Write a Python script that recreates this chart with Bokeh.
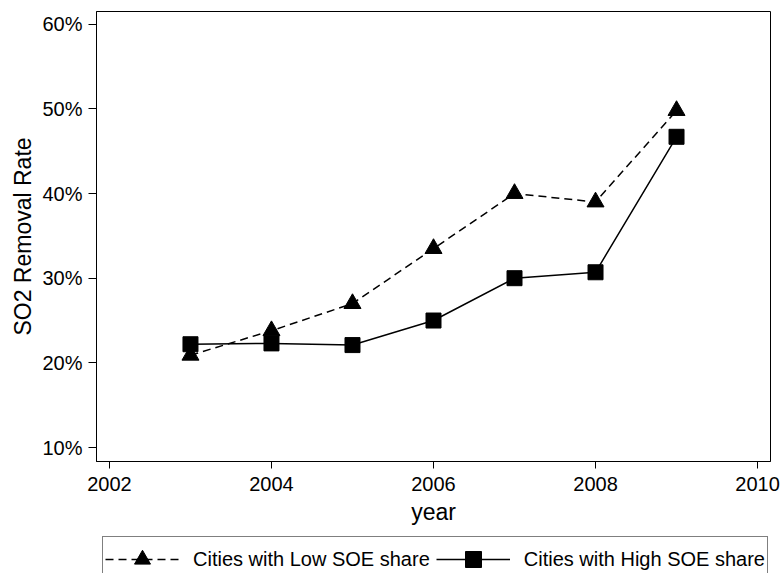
from bokeh.plotting import figure
from bokeh.layouts import column
from bokeh.models import FixedTicker, PrintfTickFormatter, Legend, LegendItem, Range1d
from bokeh.embed import file_html
from bokeh.resources import INLINE

years = [2003, 2004, 2005, 2006, 2007, 2008, 2009]
low_soe = [20.9, 23.8, 27.0, 33.5, 40.0, 39.0, 49.8]
high_soe = [22.2, 22.3, 22.1, 25.0, 30.0, 30.7, 46.7]
x_ticks = [2002, 2004, 2006, 2008, 2010]
y_ticks = [10, 20, 30, 40, 50, 60]
label_low = "Cities with Low SOE share"
label_high = "Cities with High SOE share"

FONT = "Liberation Sans"

p = figure(width=780, height=535, output_backend="svg", toolbar_location=None,
           x_range=Range1d(2001.84, 2010.16), y_range=Range1d(8.35, 61.5),
           min_border_left=96, min_border_right=10, min_border_top=11, min_border_bottom=74)
p.background_fill_color = "white"
p.border_fill_color = "white"
p.outline_line_color = "black"
p.outline_line_width = 1
p.xgrid.visible = False
p.ygrid.visible = False

for ax in (p.xaxis[0], p.yaxis[0]):
    ax.axis_line_color = "black"
    ax.major_tick_line_color = "black"
    ax.minor_tick_line_color = None
    ax.major_tick_in = 0
    ax.major_label_text_font = FONT
    ax.major_label_text_font_size = "20px"
    ax.major_label_text_color = "black"
    ax.axis_label_text_font = FONT
    ax.axis_label_text_font_size = "23px"
    ax.axis_label_text_font_style = "normal"
    ax.axis_label_text_color = "black"

p.xaxis.ticker = FixedTicker(ticks=x_ticks)
p.yaxis.ticker = FixedTicker(ticks=y_ticks)
p.yaxis.formatter = PrintfTickFormatter(format="%d%%")
p.xaxis.axis_label = "year"
p.yaxis.axis_label = "SO2 Removal Rate"
p.xaxis.major_tick_out = 7
p.yaxis.major_tick_out = 8
p.xaxis.major_label_standoff = 8
p.yaxis.major_label_standoff = 6
p.xaxis.axis_label_standoff = 5
p.yaxis.axis_label_standoff = 3

line_low = dict(line_color="black", line_width=1.5, line_dash="8 5")
line_high = dict(line_color="black", line_width=1.5)

p.line(years, low_soe, **line_low)
p.scatter(years, low_soe, marker="triangle", size=17, fill_color="black", line_color="black")
p.line(years, high_soe, **line_high)
p.scatter(years, high_soe, marker="square", size=15, fill_color="black", line_color="black")

# Legend strip below the chart (its keys reuse the same series, kept off-range)
pl = figure(width=780, height=38, output_backend="svg", toolbar_location=None,
            x_range=Range1d(0, 1), y_range=Range1d(0, 1),
            min_border_left=96, min_border_right=10, min_border_top=0, min_border_bottom=0)
pl.axis.visible = False
pl.grid.visible = False
pl.outline_line_color = None
pl.background_fill_color = "white"
pl.border_fill_color = "white"
k1 = pl.line(years, low_soe, **line_low)
k2 = pl.scatter(years, low_soe, marker="triangle", fill_color="black", line_color="black")
k3 = pl.line(years, high_soe, **line_high)
k4 = pl.scatter(years, high_soe, marker="square", fill_color="black", line_color="black")

legend = Legend(items=[LegendItem(label=label_low, renderers=[k1, k2]),
                       LegendItem(label=label_high, renderers=[k3, k4])],
                orientation="horizontal", location=(6, -9),
                glyph_width=74, glyph_height=40, label_height=40,
                label_standoff=14, spacing=6, padding=2, margin=0,
                label_text_font=FONT, label_text_font_size="20px", label_text_color="black",
                border_line_color="black", border_line_width=1,
                background_fill_color="white")
pl.add_layout(legend, "center")

layout = column(p, pl, spacing=0)
open("out.html", "w").write(file_html(layout, INLINE))
